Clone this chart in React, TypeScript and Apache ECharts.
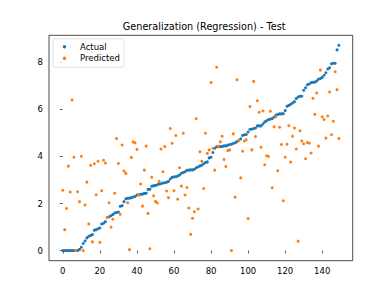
import React, { useEffect, useRef } from "react";
import * as echarts from "echarts";

const TITLE = "Generalization (Regression) - Test";
const SERIES_NAMES = ["Actual", "Predicted"];
const X_TICKS = [0, 20, 40, 60, 80, 100, 120, 140];
const Y_TICKS = [0, 2, 4, 6, 8];

const actual: number[] = [
  0, 0, 0, 0, 0, 0, 0, 0, 0, 0.05,
  0.14, 0.3, 0.41, 0.54, 0.61, 0.64, 0.68, 0.86, 0.89, 0.93,
  0.96, 1.13, 1.16, 1.23, 1.41, 1.44, 1.48, 1.53, 1.6, 1.62,
  1.64, 1.88, 1.91, 2.08, 2.2, 2.22, 2.23, 2.25, 2.28, 2.3,
  2.36, 2.37, 2.39, 2.4, 2.43, 2.44, 2.6, 2.61, 2.73, 2.76,
  2.77, 2.8, 2.83, 2.84, 2.87, 2.88, 2.9, 2.94, 3.04, 3.11,
  3.14, 3.14, 3.17, 3.21, 3.29, 3.32, 3.35, 3.41, 3.42, 3.43,
  3.43, 3.46, 3.52, 3.55, 3.6, 3.63, 3.69, 3.74, 3.77, 3.94,
  3.97, 4.17, 4.35, 4.41, 4.41, 4.42, 4.42, 4.45, 4.45, 4.48,
  4.51, 4.52, 4.55, 4.58, 4.63, 4.69, 4.75, 4.89, 4.92, 4.93,
  5.04, 5.16, 5.16, 5.19, 5.21, 5.3, 5.3, 5.3, 5.38, 5.47,
  5.52, 5.57, 5.58, 5.61, 5.68, 5.75, 5.79, 5.81, 5.81, 5.82,
  5.95, 6.13, 6.17, 6.22, 6.27, 6.33, 6.46, 6.53, 6.56, 6.56,
  6.81, 6.92, 7.05, 7.08, 7.14, 7.15, 7.16, 7.21, 7.28, 7.31,
  7.36, 7.45, 7.56, 7.72, 7.77, 7.94, 7.96, 7.96, 8.53, 8.73,
];

const predicted: number[] = [
  2.56, 0.89, 1.79, 3.59, 2.49, 6.4, 3.97, 0, 2.5, 2.08,
  4.01, 0, 1.94, 2.91, 1.13, 3.63, 0.37, 3.69, 2.37, 3.8,
  0.35, 2.54, 3.84, 3.72, 1.41, 2.03, 0.99, 1.33, 2.44, 4.76,
  3.7, 1.54, 4.49, 3.38, 3.28, 2.03, 0.04, 3.96, 4.62, 4.58,
  4.3, 2.35, 2.83, 1.89, 3.42, 4.44, 1.58, 0.08, 3.12, 2.33,
  2.09, 2.02, 2.94, 4.32, 3.35, 4.42, 2.53, 2.25, 5.19, 4.56,
  2.54, 4.89, 2.18, 3.52, 2.74, 4.99, 2.36, 2.68, 1.81, 0.69,
  1.37, 1.65, 5.6, 1.77, 4.2, 3.8, 2.64, 4.99, 4.13, 4.28,
  7.14, 4.35, 3.42, 7.79, 4.44, 4.62, 4.86, 3.87, 3.57, 4.25,
  4.28, 0, 4.96, 2.27, 7.26, 4.68, 3.09, 4.22, 4.66, 4.71,
  1.36, 6.12, 4.28, 7.19, 4.85, 6.37, 5.88, 4.39, 5.93, 3.65,
  4.03, 4.0, 5.92, 2.67, 5.26, 5.69, 3.39, 5.24, 4.51, 2.12,
  3.97, 4.52, 5.31, 3.76, 4.86, 5.21, 4.32, 0.4, 5.09, 4.66,
  4.54, 3.9, 4.59, 4.56, 4.15, 6.47, 5.79, 6.7, 4.44, 7.67,
  5.69, 5.57, 4.78, 5.72, 6.74, 4.92, 5.5, 7.6, 6.84, 4.76,
];

const COLORS = ["#1f77b4", "#ff7f0e"];
const FONT = "DejaVu Sans";

export default function App() {
  const ref = useRef<HTMLDivElement>(null);
  useEffect(() => {
    if (!ref.current) return;
    const chart = echarts.init(ref.current, undefined, { renderer: "svg" });
    const toPts = (arr: number[]) => arr.map((v, i) => [i, v]);
    const axisCommon = {
      type: "value" as const,
      splitLine: { show: false },
      axisLine: { show: false },
      axisTick: { show: true, length: 3, lineStyle: { color: "#000", width: 0.6 } },
      axisLabel: { color: "#000", fontFamily: FONT, fontSize: 8.5, margin: 6 },
    };
    chart.setOption({
      animation: false,
      backgroundColor: "#fff",
      title: {
        text: TITLE,
        left: 204.2,
        textAlign: "center",
        top: 21,
        padding: 0,
        textStyle: { fontFamily: FONT, fontSize: 9.7, fontWeight: "normal", color: "#000" },
      },
      legend: {
        data: SERIES_NAMES,
        orient: "vertical",
        left: 53,
        top: 38.7,
        icon: "circle",
        itemWidth: 3.5,
        itemHeight: 3.5,
        itemGap: 1.6,
        padding: [3, 4, 4, 9.7],
        backgroundColor: "rgba(255,255,255,0.8)",
        borderColor: "#cccccc",
        borderWidth: 0.6,
        borderRadius: 2,
        textStyle: {
          fontFamily: FONT,
          fontSize: 8.5,
          color: "#000",
          lineHeight: 10,
          padding: [0, 0, 0, 8.8],
        },
      },
      grid: {
        left: 49,
        right: 39.3,
        top: 35.3,
        bottom: 33.3,
        show: true,
        borderColor: "#000",
        borderWidth: 0.7,
        backgroundColor: "transparent",
      },
      xAxis: {
        ...axisCommon,
        min: -7.45,
        max: 156.45,
        axisTick: { ...axisCommon.axisTick, customValues: X_TICKS },
        axisLabel: { ...axisCommon.axisLabel, customValues: X_TICKS },
      },
      yAxis: {
        ...axisCommon,
        min: -0.43,
        max: 9.15,
        axisTick: { ...axisCommon.axisTick, customValues: Y_TICKS },
        axisLabel: { ...axisCommon.axisLabel, customValues: Y_TICKS },
      },
      series: [
        {
          name: SERIES_NAMES[0],
          type: "scatter",
          data: toPts(actual),
          symbolSize: 3,
          itemStyle: { color: COLORS[0], opacity: 1 },
        },
        {
          name: SERIES_NAMES[1],
          type: "scatter",
          data: toPts(predicted),
          symbolSize: 3,
          itemStyle: { color: COLORS[1], opacity: 1 },
        },
      ],
    });
    return () => chart.dispose();
  }, []);
  return (
    <div
      ref={ref}
      style={{ position: "fixed", left: 0, top: 0, width: 392, height: 294 }}
    />
  );
}
